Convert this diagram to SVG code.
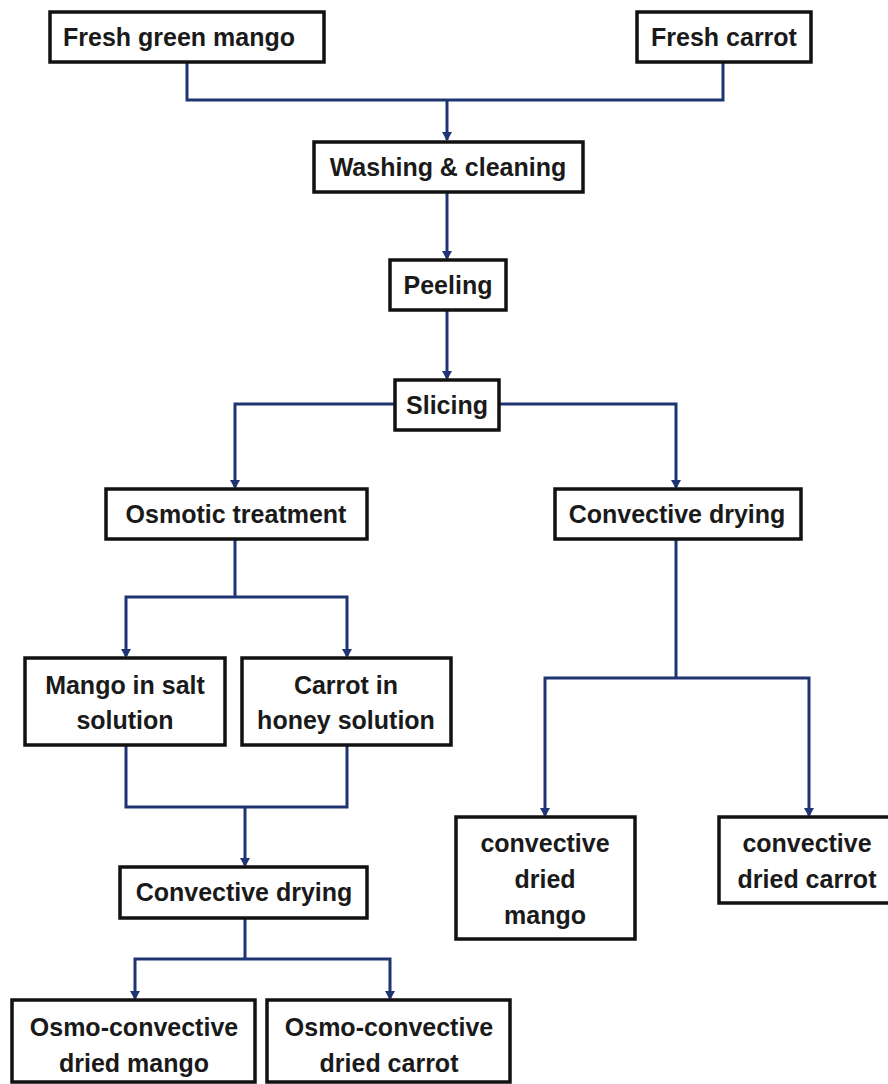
<svg xmlns="http://www.w3.org/2000/svg" width="888" height="1084" viewBox="0 0 888 1084">
<defs>
<style>
.box{fill:#fff;stroke:#111;stroke-width:3.5}
.t{font-family:"Liberation Sans",Arial,sans-serif;font-weight:bold;font-size:25px;fill:#1a1a1a;text-anchor:middle}
.c{fill:none;stroke:#1f3472;stroke-width:3}
.a{fill:#1f3472}
</style>
</defs>
<rect width="888" height="1084" fill="#fff"/>
<g id="connectors">
<path class="c" d="M187,62 V100 H723 V62"/>
<path class="c" d="M447,100 V140"/>
<path class="c" d="M447,192 V258"/>
<path class="c" d="M447,310 V378"/>
<path class="c" d="M395,404 H235 V487"/>
<path class="c" d="M499,404 H676 V487"/>
<path class="c" d="M235,539 V597"/>
<path class="c" d="M126,656 V597 H347 V656"/>
<path class="c" d="M676,539 V678"/>
<path class="c" d="M545,815 V678 H809 V815"/>
<path class="c" d="M126,745 V807 H347 V745"/>
<path class="c" d="M245,807 V865"/>
<path class="c" d="M245,918 V959"/>
<path class="c" d="M135,998 V959 H390 V998"/>
<g class="a">
<path d="M442,132 L452,132 L447,141 Z"/>
<path d="M442,251 L452,251 L447,260 Z"/>
<path d="M442,371 L452,371 L447,380 Z"/>
<path d="M230,480 L240,480 L235,489 Z"/>
<path d="M671,480 L681,480 L676,489 Z"/>
<path d="M121,649 L131,649 L126,658 Z"/>
<path d="M342,649 L352,649 L347,658 Z"/>
<path d="M540,808 L550,808 L545,817 Z"/>
<path d="M804,808 L814,808 L809,817 Z"/>
<path d="M240,858 L250,858 L245,867 Z"/>
<path d="M130,991 L140,991 L135,1000 Z"/>
<path d="M385,991 L395,991 L390,1000 Z"/>
</g>
</g>
<g id="fresh-mango"><rect class="box" x="50" y="12" width="274" height="50"/><text class="t" x="179" y="46">Fresh green mango</text></g>
<g id="fresh-carrot"><rect class="box" x="637" y="12" width="174" height="50"/><text class="t" x="724" y="46">Fresh carrot</text></g>
<g id="washing"><rect class="box" x="314" y="142" width="269" height="50"/><text class="t" x="448" y="176">Washing &amp; cleaning</text></g>
<g id="peeling"><rect class="box" x="390" y="260" width="116" height="50"/><text class="t" x="448" y="294">Peeling</text></g>
<g id="slicing"><rect class="box" x="395" y="380" width="104" height="50"/><text class="t" x="447" y="414">Slicing</text></g>
<g id="osmotic"><rect class="box" x="106" y="489" width="261" height="50"/><text class="t" x="236" y="523">Osmotic treatment</text></g>
<g id="convective-right"><rect class="box" x="555" y="489" width="246" height="50"/><text class="t" x="677" y="523">Convective drying</text></g>
<g id="mango-salt"><rect class="box" x="25" y="658" width="200" height="87"/><text class="t" x="125" y="694">Mango in salt</text><text class="t" x="125" y="729">solution</text></g>
<g id="carrot-honey"><rect class="box" x="242" y="658" width="209" height="87"/><text class="t" x="346" y="694">Carrot in</text><text class="t" x="346" y="729">honey solution</text></g>
<g id="convective-left"><rect class="box" x="120" y="867" width="247" height="51"/><text class="t" x="244" y="901">Convective drying</text></g>
<g id="conv-dried-mango"><rect class="box" x="456" y="817" width="179" height="122"/><text class="t" x="545" y="852">convective</text><text class="t" x="545" y="888">dried</text><text class="t" x="545" y="924">mango</text></g>
<g id="conv-dried-carrot"><rect class="box" x="719" y="817" width="176" height="86"/><text class="t" x="807" y="852">convective</text><text class="t" x="807" y="888">dried carrot</text></g>
<g id="osmo-mango"><rect class="box" x="12" y="1000" width="243" height="82"/><text class="t" x="134" y="1036">Osmo-convective</text><text class="t" x="134" y="1072">dried mango</text></g>
<g id="osmo-carrot"><rect class="box" x="267" y="1000" width="243" height="82"/><text class="t" x="389" y="1036">Osmo-convective</text><text class="t" x="389" y="1072">dried carrot</text></g>
</svg>
